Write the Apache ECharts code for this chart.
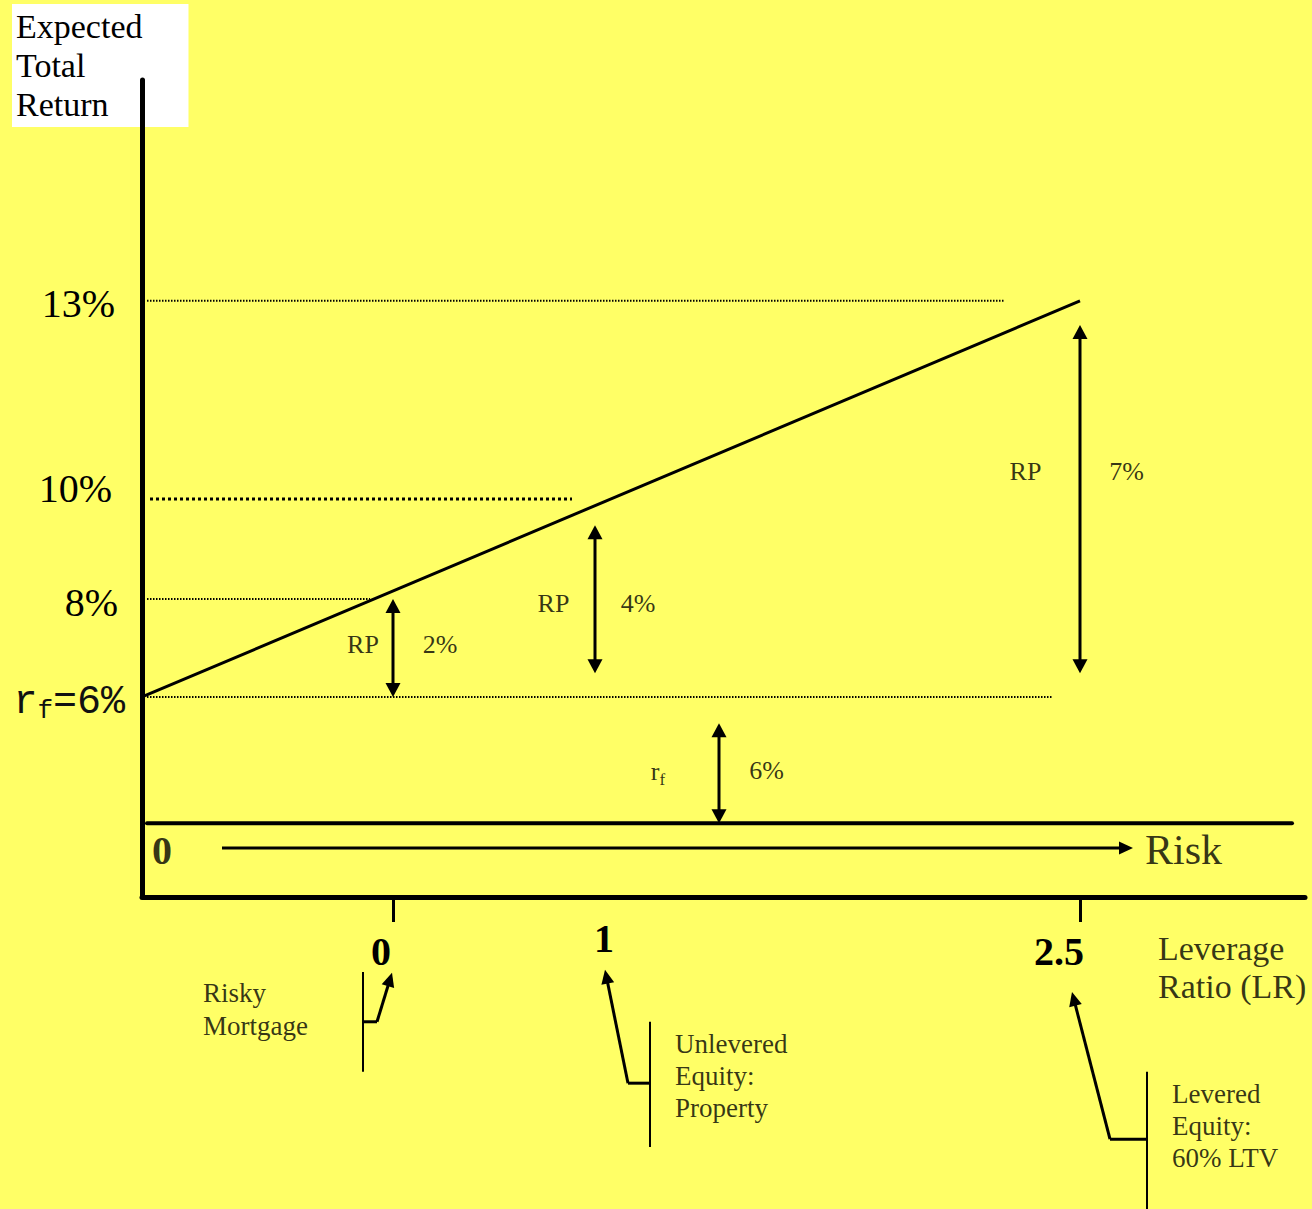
<!DOCTYPE html>
<html>
<head>
<meta charset="utf-8">
<title>Expected total return vs leverage</title>
<script src="https://cdn.jsdelivr.net/npm/echarts@6/dist/echarts.min.js"></script>
<style>
  html, body { margin: 0; padding: 0; background: #ffff66; }
  #main { width: 1312px; height: 1209px; }
</style>
</head>
<body>
<div id="main"></div>
<script>
// the picture is a schematic, not to scale: every value below is read off it
// in drawn units (x along the risk axis, y height above the leverage axis)
var leverageLabels = ['0', '1', '2.5'];
var leverageAt = [5.02, 9.06, 18.76];
var returnLabels = ['rf=6%', '8%', '10%', '13%'];
var returnAt = [4.04, 6.02, 8.04, 12.04];
var guideEnd = [18.22, 4.56, 8.6, 17.26];
var premiumLabels = ['2%', '4%', '7%'];
var premiumLow = [4.04, 4.52, 4.52];
var premiumHigh = [6.02, 7.51, 11.55];
var rfArrow = [11.54, 1.49, 3.51];   // x, bottom, top
var rfLabel = '6%';
var riskAxisAt = 1.49;
var assetNames = ['Risky\nMortgage', 'Unlevered\nEquity:\nProperty', 'Levered\nEquity:\n60% LTV'];

var SERIF = "'Times New Roman', 'Liberation Serif', serif";
var MONO = "'Courier New', 'Liberation Mono', monospace";

// callouts: bracket x, bracket top, bracket bottom, elbow y, elbow x, tip x, tip y
var callouts = [
  [4.42, -1.515, -3.53, -2.52, 4.70, 5.0, -1.53],
  [10.16, -2.52, -5.05, -3.76, 9.72, 9.26, -1.47],
  [20.1, -3.53, -6.30, -4.89, 19.36, 18.6, -1.92]
];
var calloutText = [[1.22, -2.27, 33], [10.66, -3.62, 32], [20.6, -4.62, 32]];

var chart = echarts.init(document.getElementById('main'), null, { renderer: 'svg' });

function segments(rows, style) {
  return {
    type: 'custom', coordinateSystem: 'cartesian2d', clip: false, silent: true, z: 2,
    encode: { x: [0, 2], y: [1, 3] },
    data: rows,
    renderItem: function (params, api) {
      var a = api.coord([api.value(0), api.value(1)]);
      var b = api.coord([api.value(2), api.value(3)]);
      return {
        type: 'line',
        shape: { x1: a[0], y1: a[1], x2: b[0], y2: b[1] },
        style: Object.assign({ stroke: '#000' }, style)
      };
    }
  };
}

function arrows(rows, head) {
  return {
    type: 'custom', coordinateSystem: 'cartesian2d', clip: false, silent: true, z: 4,
    encode: { x: [0, 2], y: [1, 3] },
    data: rows,
    renderItem: function (params, api) {
      var a = api.coord([api.value(0), api.value(1)]);
      var b = api.coord([api.value(2), api.value(3)]);
      var both = api.value(4) === 1;
      var dx = b[0] - a[0], dy = b[1] - a[1];
      var len = Math.sqrt(dx * dx + dy * dy);
      var ux = dx / len, uy = dy / len;
      var hl = head[0], hw = head[1] / 2;
      function tri(tip, sx, sy) {
        var bx = tip[0] - sx * hl, by = tip[1] - sy * hl;
        return {
          type: 'polygon',
          shape: { points: [tip, [bx - sy * hw, by + sx * hw], [bx + sy * hw, by - sx * hw]] },
          style: { fill: '#000' }
        };
      }
      var cut = hl - 2;
      var s = both ? [a[0] + ux * cut, a[1] + uy * cut] : a;
      var e = [b[0] - ux * cut, b[1] - uy * cut];
      var kids = [{
        type: 'line',
        shape: { x1: s[0], y1: s[1], x2: e[0], y2: e[1] },
        style: { stroke: '#000', lineWidth: 3 }
      }, tri(b, ux, uy)];
      if (both) kids.push(tri(a, -ux, -uy));
      return { type: 'group', children: kids };
    }
  };
}

// dotted guides from the return axis
var thinGuides = [], boldGuides = [];
returnAt.forEach(function (y, i) {
  if (i === 2) boldGuides.push([0.16, y, guideEnd[i], y]);
  else thinGuides.push([0.1, y, guideEnd[i], y]);
});

var doubleArrows = premiumLabels.map(function (p, i) {
  return [leverageAt[i], premiumLow[i], leverageAt[i], premiumHigh[i], 1];
});
doubleArrows.push([rfArrow[0], rfArrow[1], rfArrow[0], rfArrow[2], 1]);

var singleArrows = [[1.6, 0.99, 19.82, 0.99, 0]];
var brackets = [], elbows = [];
callouts.forEach(function (c) {
  brackets.push([c[0], c[1], c[0], c[2]]);
  elbows.push([c[4], c[3], c[0], c[3]]);
  singleArrows.push([c[4], c[3], c[5], c[6], 0]);
});

// text notes
var rpNoteX = [4.42, 8.23, 17.67], pctNoteX = [5.96, 9.92, 19.69], noteY = [5.09, 5.92, 8.60];
var notes = [];
premiumLabels.forEach(function (p, i) {
  notes.push({ value: [rpNoteX[i], noteY[i]], name: 'RP' });
  notes.push({ value: [pctNoteX[i], noteY[i]], name: p });
});
notes.push({ value: [10.32, 2.54], name: 'rf', label: { formatter: '{a|r}{b|f}' } });
notes.push({ value: [12.49, 2.55], name: rfLabel });
notes.push({ value: [0.4, 0.93], name: '0', label: { fontSize: 40, fontWeight: 'bold' } });
notes.push({ value: [20.06, 0.95], name: 'Risk', label: { position: 'right', distance: 0, fontSize: 42 } });
notes.push({ value: [20.32, -1.43], name: 'Leverage\nRatio (LR)', label: { position: 'right', distance: 0, fontSize: 34, lineHeight: 38 } });
assetNames.forEach(function (n, i) {
  notes.push({ value: [calloutText[i][0], calloutText[i][1]], name: n,
    label: { position: 'right', distance: 0, fontSize: 27, lineHeight: calloutText[i][2] } });
});

function serif(size, extra) {
  return Object.assign({ fontFamily: SERIF, fontSize: size, color: '#000', fontWeight: 'normal' }, extra || {});
}

var option = {
  animation: false,
  backgroundColor: '#ffff66',
  textStyle: { fontFamily: SERIF, color: '#000' },
  title: {
    text: 'Expected\nTotal\nReturn',
    left: 12, top: 4, z: 1,
    backgroundColor: '#ffffff',
    padding: [3, 46, 3, 4],
    textStyle: { fontFamily: SERIF, fontSize: 34, fontWeight: 'normal', lineHeight: 39, color: '#000' }
  },
  grid: { left: 142, right: 7, top: 80, bottom: 312, outerBoundsMode: 'none' },
  xAxis: {
    type: 'value', min: 0, max: 23.26, z: 10,
    axisLine: { lineStyle: { color: '#000', width: 5, cap: 'round' } },
    axisTick: { customValues: [leverageAt[0], leverageAt[2]], length: 25, lineStyle: { color: '#000', width: 3 } },
    axisLabel: {
      customValues: leverageAt,
      margin: 21,
      color: '#000', fontFamily: SERIF,
      formatter: function (v) {
        var i = leverageAt.indexOf(v);
        return '{l' + i + '|' + leverageLabels[i] + '}';
      },
      rich: {
        l0: serif(40, { fontWeight: 'bold', lineHeight: 66, padding: [0, 24, 0, 0], verticalAlign: 'middle' }),
        l1: serif(40, { fontWeight: 'bold', lineHeight: 40, padding: [0, 0, 0, 18], verticalAlign: 'middle' }),
        l2: serif(40, { fontWeight: 'bold', lineHeight: 66, padding: [0, 42, 0, 0], verticalAlign: 'middle' })
      }
    },
    splitLine: { show: false }
  },
  yAxis: {
    type: 'value', min: 0, max: 16.5, z: 10,
    axisLine: { lineStyle: { color: '#000', width: 5, cap: 'round' } },
    axisTick: { show: false },
    axisLabel: {
      customValues: returnAt,
      margin: 17,
      color: '#000', fontFamily: SERIF,
      formatter: function (v) {
        var i = returnAt.indexOf(v), t = returnLabels[i];
        if (i === 0) return '{m|' + t.charAt(0) + '}{s|' + t.charAt(1) + '}{m|' + t.slice(2) + '}';
        return '{p' + i + '|' + t + '}';
      },
      rich: {
        m: { fontFamily: MONO, fontSize: 40, lineHeight: 40, padding: [12, 0, 0, 0], color: '#111' },
        s: { fontFamily: MONO, fontSize: 26, lineHeight: 26, padding: [28, 0, 0, 0], color: '#111' },
        p1: serif(40, { lineHeight: 40, padding: [8, 7, 0, 0] }),
        p2: serif(40, { lineHeight: 40, padding: [0, 13, 20, 0] }),
        p3: serif(40, { lineHeight: 40, padding: [6, 10, 0, 0] })
      }
    },
    splitLine: { show: false }
  },
  series: [
    segments(thinGuides, { lineWidth: 2, lineDash: [1.5, 1.5] }),
    segments(boldGuides, { lineWidth: 3, lineDash: [3, 3] }),
    segments([[0.1, riskAxisAt, 23.0, riskAxisAt]], { lineWidth: 4, lineCap: 'round' }),
    {
      type: 'line', silent: true, z: 3, symbol: 'none',
      data: [[0, returnAt[0]], [leverageAt[2], returnAt[3]]],
      lineStyle: { color: '#000', width: 3 }
    },
    arrows(doubleArrows, [14, 15]),
    arrows(singleArrows, [14, 13]),
    segments(brackets, { lineWidth: 2 }),
    segments(elbows, { lineWidth: 3 }),
    {
      type: 'scatter', silent: true, clip: false, z: 5,
      symbolSize: 0,
      data: notes,
      label: {
        show: true, position: 'inside', formatter: '{b}',
        color: '#000', fontFamily: SERIF, fontSize: 26,
        rich: {
          a: serif(26, { lineHeight: 26 }),
          b: serif(17, { lineHeight: 17, padding: [17, 0, 0, 0] })
        }
      }
    }
  ]
};

chart.setOption(option);
</script>
</body>
</html>
